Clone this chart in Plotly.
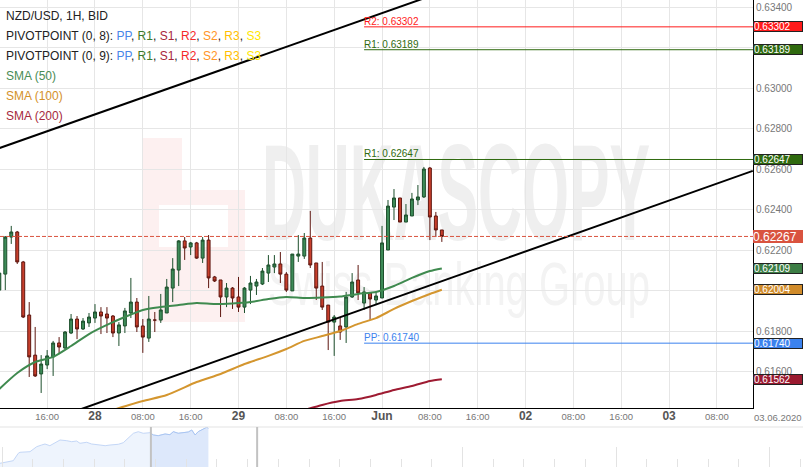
import base64

import pandas as pd
import plotly.graph_objects as go

# NZD/USD hourly bid candles, 27 May 08:00 .. 01 Jun 10:00 (weekend skipped)
times = list(pd.date_range("2020-05-27 08:00", "2020-05-29 23:00", freq="h")) + \
    list(pd.date_range("2020-06-01 00:00", "2020-06-01 10:00", freq="h"))

opens = [0.62002, 0.62081, 0.62264, 0.62289, 0.62141, 0.61879, 0.61681, 0.61588,
         0.61632, 0.61672, 0.61741, 0.61716, 0.61790, 0.61859, 0.61810, 0.61840,
         0.61864, 0.61894, 0.61884, 0.61874, 0.61790, 0.61825, 0.61889, 0.61943,
         0.61825, 0.61765, 0.61854, 0.61854, 0.61889, 0.62012, 0.62101, 0.62245,
         0.62215, 0.62235, 0.62160, 0.62249, 0.62067, 0.62052, 0.61968, 0.62012,
         0.61968, 0.61918, 0.62002, 0.62022, 0.62032, 0.62086, 0.62116, 0.62131,
         0.62081, 0.61998, 0.62170, 0.62170, 0.62259, 0.62136, 0.62022, 0.61928,
         0.61844, 0.61825, 0.61820, 0.61968, 0.62052, 0.61938, 0.61988, 0.61953,
         0.61963, 0.62200, 0.62412, 0.62457, 0.62338, 0.62368, 0.62447, 0.62462,
         0.62605, 0.62368, 0.62299]
highs = [0.62111, 0.62269, 0.62319, 0.62294, 0.62146, 0.61943, 0.61820, 0.61681,
         0.61706, 0.61751, 0.61770, 0.61800, 0.61884, 0.61874, 0.61864, 0.61889,
         0.61933, 0.61918, 0.61918, 0.61879, 0.61844, 0.61914, 0.62062, 0.61963,
         0.61859, 0.61973, 0.61894, 0.61983, 0.62057, 0.62160, 0.62249, 0.62264,
         0.62240, 0.62240, 0.62264, 0.62274, 0.62072, 0.62052, 0.62037, 0.62017,
         0.62067, 0.62017, 0.62072, 0.62057, 0.62111, 0.62175, 0.62175, 0.62190,
         0.62091, 0.62180, 0.62274, 0.62284, 0.62393, 0.62136, 0.62141, 0.61928,
         0.61879, 0.61869, 0.61993, 0.62086, 0.62126, 0.62017, 0.61988, 0.61993,
         0.62319, 0.62447, 0.62501, 0.62457, 0.62427, 0.62482, 0.62521, 0.62610,
         0.62610, 0.62388, 0.62299]
lows = [0.61993, 0.62002, 0.62230, 0.62131, 0.61864, 0.61573, 0.61573, 0.61494,
        0.61612, 0.61578, 0.61686, 0.61711, 0.61785, 0.61760, 0.61805, 0.61820,
        0.61840, 0.61785, 0.61790, 0.61770, 0.61726, 0.61790, 0.61864, 0.61795,
        0.61692, 0.61746, 0.61795, 0.61840, 0.61889, 0.61943, 0.62022, 0.62151,
        0.62175, 0.62156, 0.62136, 0.62012, 0.62042, 0.61869, 0.61918, 0.61909,
        0.61894, 0.61889, 0.61933, 0.61978, 0.62027, 0.62042, 0.62086, 0.62037,
        0.61993, 0.61998, 0.62141, 0.62156, 0.62111, 0.61953, 0.61904, 0.61706,
        0.61677, 0.61756, 0.61741, 0.61963, 0.61953, 0.61904, 0.61854, 0.61928,
        0.61963, 0.62200, 0.62348, 0.62338, 0.62338, 0.62368, 0.62422, 0.62457,
        0.62249, 0.62264, 0.62240]
closes = [0.62086, 0.62264, 0.62289, 0.62141, 0.61869, 0.61672, 0.61578, 0.61637,
          0.61677, 0.61741, 0.61721, 0.61795, 0.61859, 0.61810, 0.61849, 0.61869,
          0.61894, 0.61874, 0.61864, 0.61790, 0.61830, 0.61899, 0.61943, 0.61820,
          0.61770, 0.61859, 0.61854, 0.61904, 0.62017, 0.62106, 0.62245, 0.62210,
          0.62235, 0.62160, 0.62249, 0.62062, 0.62047, 0.61968, 0.62012, 0.61963,
          0.61918, 0.62012, 0.62037, 0.62042, 0.62096, 0.62126, 0.62131, 0.62081,
          0.62002, 0.62180, 0.62180, 0.62259, 0.62126, 0.62012, 0.61918, 0.61844,
          0.61869, 0.61795, 0.61968, 0.62042, 0.61988, 0.61993, 0.61958, 0.61973,
          0.62235, 0.62417, 0.62457, 0.62338, 0.62373, 0.62452, 0.62462, 0.62600,
          0.62363, 0.62299, 0.62267]

# moving averages, read at every third candle
sma50_idx = [0, 3, 6, 9, 12, 15, 18, 21, 24, 27, 30, 33, 36, 39, 42, 45, 48, 51,
             54, 57, 60, 63, 66, 69, 72, 74]
sma50 = [0.61514, 0.61593, 0.61647, 0.61672, 0.61726, 0.61785, 0.61830, 0.61869,
         0.61904, 0.61918, 0.61928, 0.61938, 0.61933, 0.61936, 0.61943, 0.61958,
         0.61968, 0.61963, 0.61965, 0.61970, 0.61983, 0.61993, 0.62022, 0.62062,
         0.62096, 0.62109]
sma100_idx = [19, 24, 28, 33, 37, 41, 45, 48, 51, 54, 57, 60, 63, 66, 69, 72, 74]
sma100 = [0.61410, 0.61454, 0.61484, 0.61548, 0.61588, 0.61637, 0.61677, 0.61711,
          0.61751, 0.61775, 0.61800, 0.61835, 0.61864, 0.61909, 0.61948, 0.61983,
          0.62004]
sma200_idx = [51, 54, 57, 60, 63, 66, 69, 72, 74]
sma200 = [0.61410, 0.61435, 0.61454, 0.61464, 0.61484, 0.61509, 0.61528, 0.61553,
          0.61562]

# pivot levels (start at Friday 21:00)
pivot_names = ["R2", "R1", "R1", "PP"]
pivot_values = [0.63302, 0.63189, 0.62647, 0.61740]
pivot_start = "2020-05-29 21:00"

# channel trend lines
upper_t = ["2020-05-27 08:00", "2020-06-01 10:00"]
upper_p = [0.62703, 0.63474]
lower_t = ["2020-05-27 20:00", "2020-06-03 14:00"]
lower_p = [0.61397, 0.62591]

# x axis ticks
tick_times = ["2020-05-27 08:00", "2020-05-27 16:00", "2020-05-28 00:00",
              "2020-05-28 08:00", "2020-05-28 16:00", "2020-05-29 00:00",
              "2020-05-29 08:00", "2020-05-29 16:00", "2020-06-01 00:00",
              "2020-06-01 08:00", "2020-06-01 16:00", "2020-06-02 00:00",
              "2020-06-02 08:00", "2020-06-02 16:00", "2020-06-03 00:00",
              "2020-06-03 08:00", "2020-06-03 16:00"]
tick_labels = ["08:00", "16:00", "28", "08:00", "16:00", "29", "08:00", "16:00",
               "Jun", "08:00", "16:00", "02", "08:00", "16:00", "03", "08:00", "16:00"]
day_labels = {"28", "29", "Jun", "02", "03"}

# price axis ticks (0.63200 and 0.62000 sit under value boxes)
price_ticks = [0.614, 0.616, 0.618, 0.620, 0.622, 0.624, 0.626, 0.628, 0.630,
               0.632, 0.634]
price_hidden = {0.620, 0.632}

# navigator (overview) series
nav_x = [-0.065, 0.153, 0.368, 0.531, 0.586, 0.912, 1.02, 1.13, 1.29, 1.40, 1.56,
         1.73, 1.89, 2.11, 2.27, 2.43, 2.54, 2.76, 2.92, 3.19, 3.36, 3.52, 3.79,
         3.95, 4.11, 4.28, 4.44, 4.60, 4.82, 4.93, 5.09, 5.31, 5.47, 5.58, 5.74,
         5.91, 6.07, 6.18, 6.29, 6.39, 6.56, 6.67, 6.72]
nav_v = [0.59578, 0.59653, 0.59773, 0.60328, 0.60403, 0.60448, 0.60628, 0.60823,
         0.60950, 0.61025, 0.60898, 0.61123, 0.61325, 0.61273, 0.61198, 0.61250,
         0.61078, 0.61153, 0.61025, 0.60950, 0.60898, 0.60950, 0.61003, 0.61123,
         0.61453, 0.61828, 0.61948, 0.61828, 0.61873, 0.61700, 0.61648, 0.61775,
         0.61723, 0.61948, 0.61828, 0.61873, 0.61925, 0.62075, 0.61700, 0.61948,
         0.62128, 0.62278, 0.62203]
nav_window = [4.85, 8.31]

FONT = "Liberation Sans, Arial, sans-serif"
GRID = "#e6e6e6"
X_RIGHT = 753 / 803          # main plot right edge (paper)
Y_BOTTOM = 59 / 467          # main plot bottom edge (paper)
C_SMA50, C_SMA100, C_SMA200 = "#3f8a4f", "#d4962f", "#9e1b32"
PIVOT_COLORS = ["#ff1a1a", "#2f6a0f", "#2f6a0f", "#3b82ee"]
LAST_COLOR = "#d9533f"

# background watermark as an svg image (sits under the traces)
_wm = (
    '<svg xmlns="http://www.w3.org/2000/svg" width="803" height="467" viewBox="0 0 803 467">'
    '<text x="262" y="240" font-family="Liberation Sans, Arial, sans-serif" '
    'font-weight="bold" font-size="138" fill="#efefef" textLength="388" '
    'lengthAdjust="spacingAndGlyphs">DUKASCOPY</text>'
    '<text x="268" y="305" font-family="Liberation Sans, Arial, sans-serif" '
    'font-size="62" fill="#f3f3f3" textLength="382" '
    'lengthAdjust="spacingAndGlyphs">Swiss Banking Group</text>'
    '</svg>'
)
WATERMARK = "data:image/svg+xml;base64," + base64.b64encode(_wm.encode()).decode()

fig = go.Figure()

# trend channel
for tt, pp in ((upper_t, upper_p), (lower_t, lower_p)):
    fig.add_trace(go.Scatter(x=pd.to_datetime(tt), y=pp, mode="lines",
                             line=dict(color="#000000", width=2),
                             hoverinfo="skip", showlegend=False))

# pivot levels
axis_end = pd.Timestamp("2020-06-03 16:00")
for name, val, col in zip(pivot_names, pivot_values, PIVOT_COLORS):
    fig.add_trace(go.Scatter(x=[pd.Timestamp(pivot_start), axis_end], y=[val, val],
                             mode="lines", line=dict(color=col, width=1),
                             hoverinfo="skip", showlegend=False))
    fig.add_annotation(x=pd.Timestamp(pivot_start), y=val, xref="x", yref="y",
                       text=f"{name}: {val:.5f}", showarrow=False,
                       xanchor="left", yanchor="bottom", yshift=-2, xshift=-2,
                       font=dict(family=FONT, size=10, color=col))

# moving averages
for idx, vals, col in ((sma200_idx, sma200, C_SMA200), (sma100_idx, sma100, C_SMA100),
                       (sma50_idx, sma50, C_SMA50)):
    fig.add_trace(go.Scatter(x=[times[i] for i in idx], y=vals, mode="lines",
                             line=dict(color=col, width=2, shape="spline", smoothing=0.6),
                             hoverinfo="skip", showlegend=False))

fig.add_trace(go.Candlestick(
    x=times, open=opens, high=highs, low=lows, close=closes,
    increasing=dict(line=dict(color="#1d4f2c", width=1), fillcolor="#3d8b58"),
    decreasing=dict(line=dict(color="#5e1710", width=1), fillcolor="#c83f2c"),
    whiskerwidth=0, showlegend=False,
))

# navigator
sel_x = [x for x in nav_x if x >= nav_window[0] - 0.05]
sel_v = nav_v[len(nav_x) - len(sel_x):]
fig.add_trace(go.Scatter(x=nav_x, y=nav_v, xaxis="x2", yaxis="y2", mode="lines",
                         line=dict(color="#c4d7f7", width=1), fill="tozeroy",
                         fillcolor="#eef4fd", hoverinfo="skip", showlegend=False))
fig.add_trace(go.Scatter(x=sel_x, y=sel_v, xaxis="x2", yaxis="y2", mode="lines",
                         line=dict(color="#a9c5f2", width=1), fill="tozeroy",
                         fillcolor="#dde8fb", hoverinfo="skip", showlegend=False))

# last price dashed line
last = closes[-1]
fig.add_shape(type="line", xref="x domain", yref="y", x0=0, x1=1, y0=last, y1=last,
              line=dict(color=LAST_COLOR, width=1, dash="4px,2px"))

# navigator frame and window handles
fig.add_shape(type="line", xref="paper", yref="y2 domain", x0=0, x1=1, y0=1, y1=1,
              line=dict(color="#e3e3e3", width=1))
for hx in nav_window:
    fig.add_shape(type="line", xref="x2", yref="y2 domain", x0=hx, x1=hx, y0=0, y1=1,
                  line=dict(color="#c2c2c2", width=2))

# Dukascopy logo block behind the chart
for x0, x1, y0, y1, col in ((142, 245, 138, 322, "#fdf0f0"),
                            (159, 228, 205, 247, "#ffffff"),
                            (182, 245, 138, 190, "#ffffff")):
    fig.add_shape(type="rect", xref="paper", yref="paper", layer="below",
                  x0=x0 / 803, x1=x1 / 803, y0=1 - y1 / 467, y1=1 - y0 / 467,
                  line=dict(width=0), fillcolor=col)

fig.add_layout_image(source=WATERMARK, xref="paper", yref="paper", x=0, y=1,
                     sizex=1, sizey=1, xanchor="left", yanchor="top",
                     sizing="stretch", layer="below")

# right-hand value labels
value_boxes = [(pivot_values[0], PIVOT_COLORS[0]), (pivot_values[1], PIVOT_COLORS[1]),
               (pivot_values[2], PIVOT_COLORS[2]), (sma50[-1], "#3c7d45"),
               (sma100[-1], "#d08b2a"), (pivot_values[3], PIVOT_COLORS[3]),
               (sma200[-1], "#9a1a30")]
for val, col in value_boxes:
    fig.add_annotation(x=X_RIGHT, y=val, xref="paper", yref="y", text=f"{val:.5f}",
                       showarrow=False, xanchor="left", yanchor="middle",
                       width=48, height=9, align="left", borderpad=0,
                       bgcolor=col, bordercolor="#222222", borderwidth=1,
                       font=dict(family=FONT, size=10, color="#ffffff"))
fig.add_annotation(x=X_RIGHT, y=last, xref="paper", yref="y", text=f"{last:.5f}",
                   showarrow=False, xanchor="left", yanchor="middle",
                   width=50, height=13, align="left", borderpad=0,
                   bgcolor=LAST_COLOR, borderwidth=0,
                   font=dict(family=FONT, size=12, color="#ffffff"))
fig.add_annotation(x=X_RIGHT, y=Y_BOTTOM, xref="paper", yref="paper", text="03.06.2020",
                   showarrow=False, xanchor="left", yanchor="top", yshift=-3,
                   bgcolor="#ffffff", borderpad=0,
                   font=dict(family=FONT, size=9.5, color="#777777"))

# legend block top-left
def span(t, c):
    return f'<span style="color:{c}">{t}</span>'

pivot_key = ", ".join(span(n, c) for n, c in (
    ("PP", "#4a86e8"), ("R1", "#3d7a2a"), ("S1", "#a8263a"), ("R2", "#f42a2a"),
    ("S2", "#ff9526"), ("R3", "#ffc000"), ("S3", "#ffe600")))
legend_lines = [
    span("NZD/USD, 1H, BID", "#222222"),
    span("PIVOTPOINT (0, 8): ", "#222222") + pivot_key,
    span("PIVOTPOINT (0, 9): ", "#222222") + pivot_key,
    span("SMA (50)", "#4a8c55"),
    span("SMA (100)", "#d4912a"),
    span("SMA (200)", "#a62a3c"),
]
for k, line in enumerate(legend_lines):
    fig.add_annotation(x=0, y=1 - (16 + 20 * k) / 467, xref="paper", yref="paper",
                       text=line, showarrow=False, xanchor="left", yanchor="middle",
                       xshift=4, font=dict(family=FONT, size=12, color="#222222"))

tick_text = [f'<span style="font-size:12px;color:#555"><b>{t}</b></span>'
             if t in day_labels else t for t in tick_labels]
price_text = ["" if p in price_hidden else f"{p:.5f}" for p in price_ticks]

fig.update_layout(
    width=803, height=467,
    margin=dict(l=0, r=0, t=0, b=0),
    paper_bgcolor="#ffffff", plot_bgcolor="#ffffff",
    showlegend=False,
    font=dict(family=FONT, color="#777777"),
    xaxis=dict(
        type="date", domain=[0, X_RIGHT], anchor="y",
        range=["2020-05-27 08:07", "2020-06-03 14:02"],
        rangebreaks=[dict(bounds=["sat", "mon"])],
        rangeslider=dict(visible=False),
        tickmode="array", tickvals=pd.to_datetime(tick_times), ticktext=tick_text,
        tickfont=dict(family=FONT, size=9.5, color="#777777"),
        showgrid=True, gridcolor=GRID, gridwidth=1,
        showline=True, linecolor="#000000", linewidth=1, ticks="",
        zeroline=False,
    ),
    yaxis=dict(
        domain=[Y_BOTTOM, 1], anchor="x", side="right",
        range=[0.614198, 0.634346],
        tickmode="array", tickvals=price_ticks, ticktext=price_text,
        tickfont=dict(family=FONT, size=10, color="#777777"),
        showgrid=True, gridcolor=GRID, gridwidth=1,
        showline=True, linecolor="#000000", linewidth=1, ticks="",
        zeroline=False,
    ),
    xaxis2=dict(
        domain=[0, 1], anchor="y2", range=[-0.065, 26.09],
        tickmode="array", tickvals=[0, 15, 20, 25], ticks="inside", ticklen=20,
        tickcolor="#e3e3e3", tickwidth=1, showticklabels=False,
        minor=dict(tickmode="linear", tick0=0, dtick=1, ticks="inside", ticklen=8,
                   tickcolor="#e3e3e3", tickwidth=1, showgrid=False),
        showgrid=False, zeroline=False, showline=False,
    ),
    yaxis2=dict(
        domain=[0, 40 / 467], anchor="x2", range=[0.593, 0.623],
        showticklabels=False, showgrid=False, zeroline=False, showline=False,
    ),
)

# the page body has a default 8px margin; drop it so the figure fills the window
fig.write_html("out.html", config={"displayModeBar": False},
               post_script="document.body.style.margin='0';")
